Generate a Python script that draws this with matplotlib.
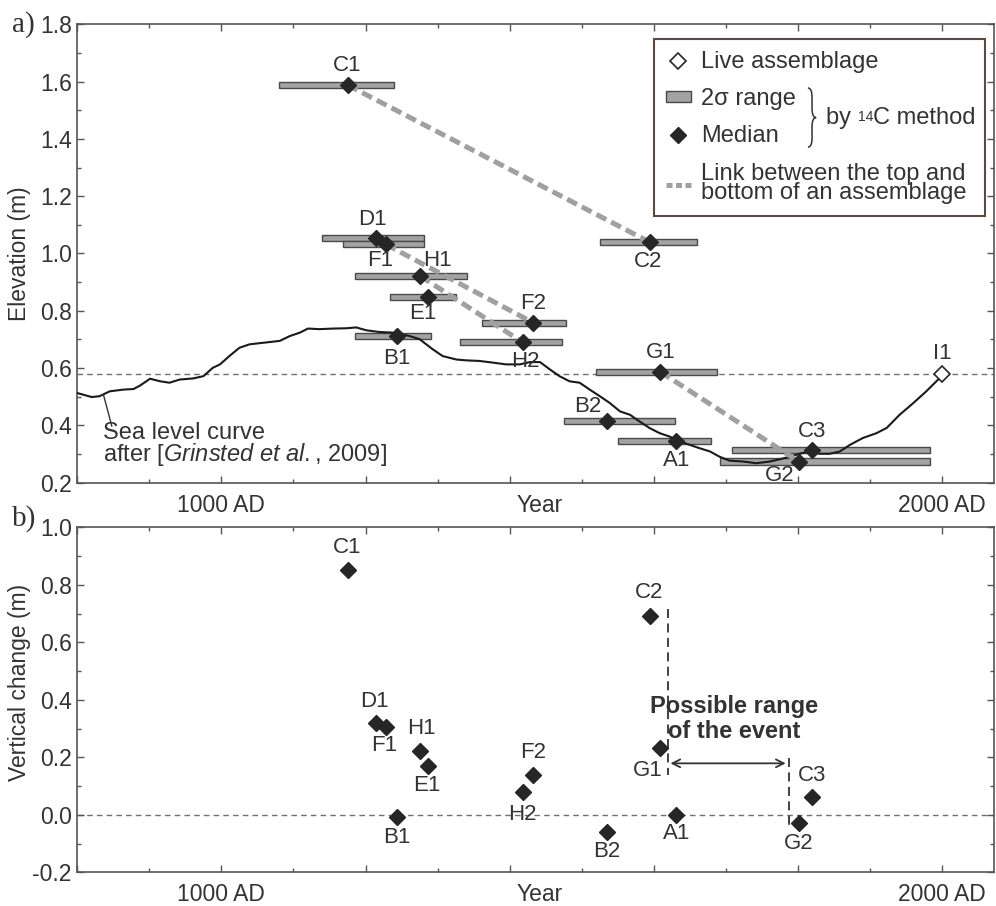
import numpy as np
import matplotlib
matplotlib.use("Agg")
import matplotlib.pyplot as plt
from matplotlib.lines import Line2D
from matplotlib.patches import Patch, PathPatch
from matplotlib.path import Path
from matplotlib.ticker import MultipleLocator, FuncFormatter, FormatStrFormatter

plt.rcParams['font.family'] = ['Liberation Sans', 'DejaVu Sans']
plt.rcParams['mathtext.fontset'] = 'custom'
plt.rcParams['mathtext.rm'] = 'Liberation Sans'
plt.rcParams['mathtext.it'] = 'Liberation Sans:italic'
plt.rcParams['mathtext.bf'] = 'Liberation Sans:bold'

# ---- data ----
samples = ['C1', 'D1', 'F1', 'H1', 'E1', 'B1', 'H2', 'F2', 'B2', 'C2', 'G1', 'A1', 'G2', 'C3']
median_age = [1175, 1214, 1228, 1276, 1287, 1243, 1418, 1433, 1535, 1594, 1609, 1631, 1801, 1820]
elevation = [1.588, 1.055, 1.032, 0.921, 0.848, 0.711, 0.690, 0.758, 0.416, 1.040, 0.587, 0.345, 0.274, 0.315]
age_lo = [1080, 1139, 1168, 1186, 1234, 1185, 1331, 1361, 1475, 1525, 1520, 1550, 1692, 1708]
age_hi = [1240, 1281, 1281, 1341, 1325, 1291, 1473, 1478, 1630, 1660, 1687, 1679, 1983, 1983]
vertical_change = [0.851, 0.321, 0.307, 0.223, 0.170, -0.007, 0.080, 0.140, -0.059, 0.690, 0.232, 0.001, -0.029, 0.063]

# top and bottom of the same assemblage
links = [('C1', 'C2'), ('F1', 'F2'), ('H1', 'H2'), ('G1', 'G2')]

live_name = 'I1'
live_age = 2000
live_elev = 0.58
present_level = 0.58

sea_year = [800, 820, 831, 845, 864, 878, 887, 901, 915, 928, 942, 961, 975, 988, 998, 1011, 1025, 1039,
            1053, 1067, 1081, 1095, 1109, 1120, 1136, 1155, 1173, 1187, 1201, 1219, 1237, 1261, 1275, 1293,
            1307, 1326, 1340, 1358, 1377, 1395, 1414, 1428, 1442, 1456, 1469, 1483, 1497, 1511, 1525, 1539,
            1553, 1567, 1580, 1594, 1608, 1622, 1636, 1650, 1664, 1678, 1691, 1705, 1724, 1742, 1761, 1775,
            1789, 1802, 1816, 1830, 1844, 1858, 1872, 1890, 1909, 1923, 1941, 1960, 1978, 1992, 2000]
sea_level = [0.513, 0.499, 0.502, 0.519, 0.525, 0.527, 0.539, 0.563, 0.554, 0.549, 0.560, 0.564, 0.572, 0.601,
             0.613, 0.642, 0.671, 0.683, 0.687, 0.691, 0.695, 0.712, 0.724, 0.738, 0.736, 0.738, 0.739, 0.742,
             0.732, 0.726, 0.724, 0.712, 0.701, 0.666, 0.642, 0.630, 0.627, 0.625, 0.619, 0.613, 0.613, 0.621,
             0.621, 0.595, 0.572, 0.554, 0.549, 0.525, 0.502, 0.478, 0.449, 0.437, 0.414, 0.391, 0.373, 0.361,
             0.344, 0.332, 0.320, 0.309, 0.291, 0.277, 0.274, 0.268, 0.274, 0.282, 0.291, 0.301, 0.309, 0.301,
             0.301, 0.309, 0.332, 0.356, 0.373, 0.391, 0.437, 0.478, 0.519, 0.554, 0.574]

# possible range of the event (panel b)
event_start = 1620
event_end = 1787
event_start_span = (0.715, 0.14)
event_end_span = (0.196, -0.044)
event_arrow_y = 0.179

TXT = '#333333'
AXC = '#555555'
DARK = '#262626'
BAR_FC = '#a3a3a3'
BAR_EC = '#4a4a4a'
LINK_C = '#a0a0a0'
MS = 8.5


def style_axis(ax, ylim):
    for s in ax.spines.values():
        s.set_color(AXC)
        s.set_linewidth(1.2)
    ax.set_xlim(800, 2072)
    ax.set_ylim(*ylim)
    ax.xaxis.set_major_locator(MultipleLocator(200))
    ax.xaxis.set_minor_locator(MultipleLocator(100))
    ax.xaxis.set_major_formatter(FuncFormatter(
        lambda v, p: '%d AD' % v if int(round(v)) in (1000, 2000) else ''))
    ax.yaxis.set_major_locator(MultipleLocator(0.2))
    ax.yaxis.set_minor_locator(MultipleLocator(0.1))
    ax.yaxis.set_major_formatter(FormatStrFormatter('%.1f'))
    ax.tick_params(which='both', direction='in', top=True, right=True,
                   color=AXC, labelcolor=TXT, labelsize=16.5, width=1)
    ax.tick_params(which='major', length=5)
    ax.tick_params(which='minor', length=3)
    ax.tick_params(axis='x', pad=8)
    ax.tick_params(axis='y', pad=4)
    ax.annotate('Year', xy=(1441, 0), xycoords=('data', 'axes fraction'),
                xytext=(0, -8), textcoords='offset points',
                ha='center', va='top', fontsize=16.5, color=TXT)


def put_labels(ax, xs, ys, names, offsets):
    for x, y, n in zip(xs, ys, names):
        dx, dy = offsets[n]
        ax.annotate(n, xy=(x, y), xytext=(dx, dy), textcoords='offset points',
                    ha='center', va='center', fontsize=16, color=TXT, zorder=6)


def draw_brace(ax, x0, x1, ytop, ybot, r=0.02):
    xm = (x0 + x1) / 2
    ymid = (ytop + ybot) / 2
    verts = [(x0, ytop), (xm, ytop), (xm, ytop - r), (xm, ymid + r),
             (xm, ymid), (x1, ymid), (xm, ymid), (xm, ymid - r),
             (xm, ybot + r), (xm, ybot), (x0, ybot)]
    codes = [Path.MOVETO, Path.CURVE3, Path.CURVE3, Path.LINETO,
             Path.CURVE3, Path.CURVE3, Path.CURVE3, Path.CURVE3,
             Path.LINETO, Path.CURVE3, Path.CURVE3]
    ax.add_patch(PathPatch(Path(verts, codes), fill=False, lw=1.1, ec=TXT,
                           transform=ax.transAxes, zorder=10, clip_on=False))


fig = plt.figure(figsize=(9.96, 9.06), dpi=100)
ax1 = fig.add_axes([0.0776, 0.4672, 0.9204, 0.506])
ax2 = fig.add_axes([0.0776, 0.0372, 0.9204, 0.3808])

age = dict(zip(samples, median_age))
elev = dict(zip(samples, elevation))

# ---------------- a) elevation ----------------
style_axis(ax1, (0.2, 1.8))
ax1.axhline(present_level, color='#707070', lw=1, dashes=(4, 3), zorder=1)
ax1.barh(elevation, np.array(age_hi) - np.array(age_lo), left=age_lo, height=0.022,
         color=BAR_FC, edgecolor=BAR_EC, linewidth=1, zorder=2)
ax1.plot(sea_year, sea_level, color='#1a1a1a', lw=1.5, zorder=3)
for a, b in links:
    ax1.plot([age[a], age[b]], [elev[a], elev[b]], color=LINK_C, lw=3.6,
             dashes=(2.2, 1.1), zorder=3.5)
ax1.plot(median_age, elevation, 'D', ls='none', ms=MS, mfc=DARK, mec=DARK, zorder=5)
ax1.plot([live_age], [live_elev], 'D', ls='none', ms=MS, mfc='white', mec=DARK, mew=1.2,
         zorder=5, clip_on=False)

top_offsets = {'C1': (0, 14), 'D1': (-2, 13), 'F1': (-4, -12), 'H1': (12, 11),
               'E1': (-4, -12), 'B1': (0, -16), 'H2': (2, -14), 'F2': (0, 14),
               'B2': (-14, 10), 'C2': (-1, -14), 'G1': (0, 14), 'A1': (0, -14),
               'G2': (-14, -10), 'C3': (0, 13), 'I1': (0, 15)}
put_labels(ax1, median_age + [live_age], elevation + [live_elev], samples + [live_name], top_offsets)

ax1.set_ylabel('Elevation (m)', fontsize=16.5, color=TXT)
ax1.yaxis.set_label_coords(-0.0505, 0.5)

# sea level note
ax1.annotate('', xy=(836, 0.51), xytext=(848, 0.397),
             arrowprops=dict(arrowstyle='-', color=TXT, lw=1, shrinkA=0, shrinkB=0))
ax1.text(835, 0.332, 'Sea level curve\n' + r'after [$Grinsted\ et\ al.$, 2009]',
         fontsize=17, va='center', color=TXT, linespacing=0.86)

# legend
handles = [Line2D([], [], marker='D', ls='none', ms=MS, mfc='white', mec=DARK, mew=1.2),
           Patch(facecolor=BAR_FC, edgecolor=BAR_EC),
           Line2D([], [], marker='D', ls='none', ms=MS, color=DARK),
           Line2D([], [], color=LINK_C, lw=3.6, dashes=(1.2, 0.7))]
labels = ['Live assemblage', '2σ range', 'Median',
          'Link between the top and\nbottom of an assemblage']
leg = ax1.legend(handles, labels, loc='upper left', bbox_to_anchor=(0.629, 0.5, 0.361, 0.467),
                 mode='expand', borderaxespad=0, fontsize=17, frameon=True, fancybox=False,
                 edgecolor='#5a4a42', framealpha=1, handlelength=1.05, handleheight=0.33,
                 handletextpad=0.45, labelspacing=0.64, borderpad=0.5)
leg.get_frame().set_linewidth(1.5)
for t in leg.get_texts():
    t.set_color(TXT)
    t.set_linespacing(0.84)
draw_brace(ax1, 0.797, 0.806, 0.861, 0.732)
t_by = ax1.text(0.8167, 0.7966, 'by ', transform=ax1.transAxes, fontsize=17,
                va='center', color=TXT, zorder=10)
t_sup = ax1.annotate('14', xy=(1, 0.86), xycoords=t_by, fontsize=10, va='top',
                     color=TXT, zorder=10)
ax1.annotate('C method', xy=(1, 0), xycoords=(t_sup, t_by), fontsize=17, va='bottom',
             color=TXT, zorder=10)

# ---------------- b) vertical change ----------------
style_axis(ax2, (-0.2, 1.0))
ax2.axhline(0, color='#707070', lw=1, dashes=(4, 3), zorder=1)
ax2.plot(median_age, vertical_change, 'D', ls='none', ms=MS, mfc=DARK, mec=DARK, zorder=5)

bottom_offsets = {'C1': (0, 16), 'D1': (-1, 15), 'F1': (-1, -14), 'H1': (1, 16),
                  'E1': (-1, -14), 'B1': (0, -15), 'F2': (0, 16), 'H2': (0, -16),
                  'C2': (0, 17), 'G1': (-9, -16), 'A1': (0, -14), 'B2': (0, -14),
                  'G2': (0, -15), 'C3': (0, 15)}
put_labels(ax2, median_age, vertical_change, samples, bottom_offsets)

ax2.plot([event_start, event_start], event_start_span, color=TXT, lw=1.3, dashes=(5, 3), zorder=4)
ax2.plot([event_end, event_end], event_end_span, color=TXT, lw=1.3, dashes=(5, 3), zorder=4)
ax2.annotate('', xy=(event_start + 3, event_arrow_y), xytext=(event_end - 4, event_arrow_y),
             arrowprops=dict(arrowstyle='<->', color=TXT, lw=1.3, shrinkA=0, shrinkB=0,
                             mutation_scale=14))
ax2.text(1712, 0.333, 'Possible range\nof the event',
         ha='center', va='center', fontsize=17, fontweight='bold', color=TXT,
         linespacing=1.15)

ax2.set_ylabel('Vertical change (m)', fontsize=16.5, color=TXT)
ax2.yaxis.set_label_coords(-0.0505, 0.55)

fig.text(0.012, 0.9647, 'a)', family='Liberation Serif', fontsize=21, va='baseline', color=TXT)
fig.text(0.012, 0.4198, 'b)', family='Liberation Serif', fontsize=21, va='baseline', color=TXT)

fig.savefig('out.png', dpi=100)
